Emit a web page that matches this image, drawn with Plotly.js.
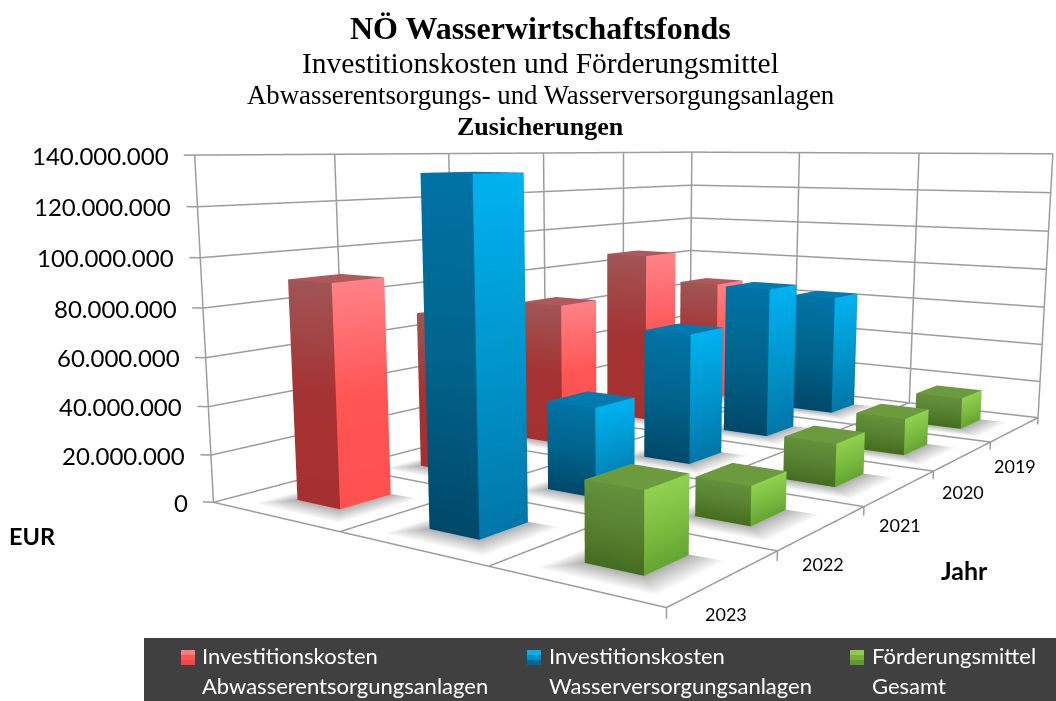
<!DOCTYPE html><html><head><meta charset="utf-8"></head><body style="margin:0;background:#fff;overflow:hidden;width:1056px;height:701px;position:relative"><div id="g" style="position:absolute;left:0;top:-171px"></div>
<script src="https://cdn.plot.ly/plotly-3.0.1.min.js"></script>
<script>
const years=['2019','2020','2021','2022','2023'];
const seriesNames=['Investitionskosten<br>Abwasserentsorgungsanlagen','Investitionskosten<br>Wasserversorgungsanlagen','Förderungsmittel<br>Gesamt'];
const abwasser=[66,87,68,70,91];
const wasser=[63,74,60,38,134];
const foerderung=[16,17.5,19,16,30];
const zTicks=[0,20,40,60,80,100,120,140];
const FP=[2.3537,-3.7280,0.5278,2.1769,-0.1757,0.0014,1.5754,2.6136];
const LW=1252,LH=1108,TOP=-171;
const [ex,ey,ez,yaw,pit,rol,ax,ay]=FP;
function cam(){const y=yaw,p=pit,r=rol;const f=[Math.cos(p)*Math.cos(y),Math.cos(p)*Math.sin(y),Math.sin(p)];
 const s0=[Math.sin(y),-Math.cos(y),0];const u0=[s0[1]*f[2]-s0[2]*f[1],s0[2]*f[0]-s0[0]*f[2],s0[0]*f[1]-s0[1]*f[0]];
 const c=Math.cos(r),sn=Math.sin(r);const s=s0.map((v,i)=>c*v+sn*u0[i]),u=u0.map((v,i)=>c*v-sn*s0[i]);return{f,s,u}}
const {f,s,u}=cam();
const RX=[-0.06,3.02],RY=[-0.03,5.02],RZ=[-4,141];
function shift(r,S,a){const m=(r[0]+r[1])/2;return (S/2-m)*a/S}
const dx=shift(RX,3,ax),dy=shift(RY,5,ay),dz=shift(RZ,140,1);
const aspect={x:ax*(RX[1]-RX[0])/3,y:ay*(RY[1]-RY[0])/5,z:(RZ[1]-RZ[0])/140};
const eye={x:ex+dx,y:ey+dy,z:ez+dz};const center={x:eye.x+f[0]*3,y:eye.y+f[1]*3,z:eye.z+f[2]*3};

const styles=[
 {l:[[160,85,85],[165,50,50],[165,48,48]],r:[[255,130,135],[255,85,85],[255,80,80]],t:[178,88,92]},
 {l:[[0,115,165],[0,100,140],[0,72,105]],r:[[0,178,240],[0,150,205],[0,118,168]],t:[0,122,175]},
 {l:[[100,145,60],[88,130,50],[68,108,30]],r:[[145,210,80],[125,190,65],[100,165,50]],t:[108,155,62]}];
const rgb=c=>`rgb(${c[0]},${c[1]},${c[2]})`;
const allSeries=[abwasser,wasser,foerderung];
const traces=[];
const gx0=.335,gx1=.675,gy0=.31,gy1=.70;
function barMesh(vals,si){const X=[],Y=[],Z=[],C=[],I=[],J=[],K=[];const st=styles[si];
 const add=(vs,cs)=>{const n=X.length;vs.forEach((v,i)=>{X.push(v[0]);Y.push(v[1]);Z.push(v[2]);C.push(rgb(cs[i]))});return n};
 const quad=(a,b,c,d)=>{I.push(a,a);J.push(b,c);K.push(c,d)};
 vals.forEach((v,yi)=>{const y0=4-yi+gy0,y1=4-yi+gy1,x0=si+gx0,x1=si+gx1;const h=v;
  [[st.l,[[x0,y0],[x1,y0]]],[st.r,[[x1,y0],[x1,y1]]]].forEach(([cs,ed])=>{
   const [A,B]=ed;const lv=[h,h*.5,0];for(let k=0;k<2;k++){const n=add([[A[0],A[1],lv[k]],[B[0],B[1],lv[k]],[B[0],B[1],lv[k+1]],[A[0],A[1],lv[k+1]]],[cs[k],cs[k],cs[k+1],cs[k+1]]);quad(n,n+1,n+2,n+3)}});
  const n=add([[x0,y0,h],[x1,y0,h],[x1,y1,h],[x0,y1,h]],[st.t,st.t,st.t,st.t]);quad(n,n+1,n+2,n+3);
 });
 return {type:'mesh3d',x:X,y:Y,z:Z,i:I,j:J,k:K,vertexcolor:C,hoverinfo:'skip',showscale:false,lighting:{ambient:1,diffuse:0,specular:0,fresnel:0,roughness:1},name:seriesNames[si].replace('<br>',' ')}}
function shadowMesh(){const X=[],Y=[],Z=[],C=[],I=[],J=[],K=[];
 allSeries.forEach((vals,si)=>vals.forEach((v,yi)=>{const y0=4-yi+gy0,y1=4-yi+gy1,x0=si+gx0,x1=si+gx1,e=.2;const n=X.length;
  [[x0,y0],[x1,y0],[x1,y1],[x0,y1],[x0-e*.7,y0-e],[x1+e,y0-e],[x1+e,y1+e*.1],[x0-e*.7,y1]].forEach((p,i)=>{X.push(p[0]);Y.push(p[1]);Z.push(.05);C.push(i<4?'rgb(175,175,175)':'rgb(255,255,255)')});
  for(let q=0;q<4;q++){const a=n+q,b=n+(q+1)%4,c=n+4+(q+1)%4,d=n+4+q;I.push(a,a);J.push(b,c);K.push(c,d)}
 }));
 return {type:'mesh3d',x:X,y:Y,z:Z,i:I,j:J,k:K,vertexcolor:C,hoverinfo:'skip',lighting:{ambient:1,diffuse:0,specular:0,fresnel:0,roughness:1}}}
traces.push(shadowMesh());
const gx=[],gy=[],gz=[];const seg=(a,b)=>{gx.push(a[0],b[0],null);gy.push(a[1],b[1],null);gz.push(a[2],b[2],null)};
const ZF=.25;
zTicks.forEach(z=>{const zz=z||ZF;seg([-.055,-.028,zz],[0,0,zz]);seg([0,0,zz],[0,5,zz]);seg([0,5,zz],[3,5,zz])});
[0,1,2,3,4,5].forEach(y=>{seg([0,y,140],[0,y,ZF]);seg([0,y,ZF],[3,y,ZF]);});
[1,2].forEach(x=>{seg([x,5,140],[x,5,ZF]);seg([x,5,ZF],[x,0,ZF])});
seg([3,5,140],[3,5,ZF]);seg([3,0,ZF],[3,5,ZF]);
[0,1,2,3,4,5].forEach(y=>seg([3,y,ZF],[3,y,-3.5]));
traces.push({type:'scatter3d',mode:'lines',x:gx,y:gy,z:gz,line:{color:'#9c9c9c',width:3},hoverinfo:'skip',connectgaps:false,showlegend:false});
allSeries.forEach((v,i)=>traces.push(barMesh(v,i)));

const PX=x=>x/LW,PY=y=>1-(y-TOP)/LH;
const serif='"Liberation Serif",serif',sans='Lato,sans-serif';
const ann=(x,y,text,size,opt={})=>Object.assign({xref:'paper',yref:'paper',x:PX(x),y:PY(y),text,showarrow:false,xanchor:'center',yanchor:'middle',align:'left',font:{family:sans,size,color:'#000'}},opt);
const fS=(s)=>({family:serif,size:s,color:'#000'});
const annotations=[
 ann(540,28,'<b>NÖ Wasserwirtschaftsfonds</b>',32,{font:fS(32)}),
 ann(540,63,'Investitionskosten und Förderungsmittel',29.5,{font:fS(29.5)}),
 ann(540,95,'Abwasserentsorgungs- und Wasserversorgungsanlagen',26.8,{font:fS(26.8)}),
 ann(540,126,'<b>Zusicherungen</b>',26,{font:fS(26)}),
 ann(32,536,'<b>EUR</b>',23.5),ann(964,570,'<b>Jahr</b>',25)];
const legendX=[200,547,870],swatchX=[181,527,850];
const swatch=[['#ff7a7e','#ff5252','#f04848'],['#00b0f0','#0090c8','#006a96'],['#8ccc4c','#78b040','#5e9a30']];
const shapes=[{type:'rect',xref:'paper',yref:'paper',x0:PX(144),x1:PX(1056),y0:PY(638),y1:PY(701),fillcolor:'#404040',line:{width:0},layer:'below'}];
seriesNames.forEach((t,i)=>{const [a,b]=t.split('<br>');
 annotations.push(ann(legendX[i],655.5,a,22,{xanchor:'left',font:{family:sans,size:22,color:'#fff'}}),ann(legendX[i],685,b,22,{xanchor:'left',font:{family:sans,size:22,color:'#fff'}}));
 swatch[i].forEach((c,k)=>shapes.push({type:'rect',xref:'paper',yref:'paper',x0:PX(swatchX[i]),x1:PX(swatchX[i]+14),y0:PY(650+k*5),y1:PY(655+k*5),fillcolor:c,line:{width:0}}));
});
const sceneAnn=[];
zTicks.forEach(z=>sceneAnn.push({x:0,y:0,z:z,text:z===0?'0':(z*1e6).toLocaleString('de-DE'),showarrow:false,xanchor:'right',yanchor:'middle',xshift:-24,font:{family:sans,size:24,color:'#000'}}));
years.forEach((yr,i)=>sceneAnn.push({x:3,y:4.5-i,z:0,text:yr,showarrow:false,xanchor:'center',yanchor:'middle',yshift:-36,font:{family:sans,size:18,color:'#000'}}));
const axis=r=>({visible:false,range:r,showspikes:false});
Plotly.newPlot('g',traces,{width:LW,height:LH,margin:{l:0,r:0,t:0,b:0,pad:0},paper_bgcolor:'rgba(0,0,0,0)',showlegend:false,annotations,shapes,
 scene:{domain:{x:[0,1],y:[0,1]},xaxis:axis(RX),yaxis:axis(RY),zaxis:axis(RZ),aspectmode:'manual',aspectratio:aspect,camera:{eye,center,up:{x:u[0],y:u[1],z:u[2]}},annotations:sceneAnn}},{displayModeBar:false});
</script></body></html>
